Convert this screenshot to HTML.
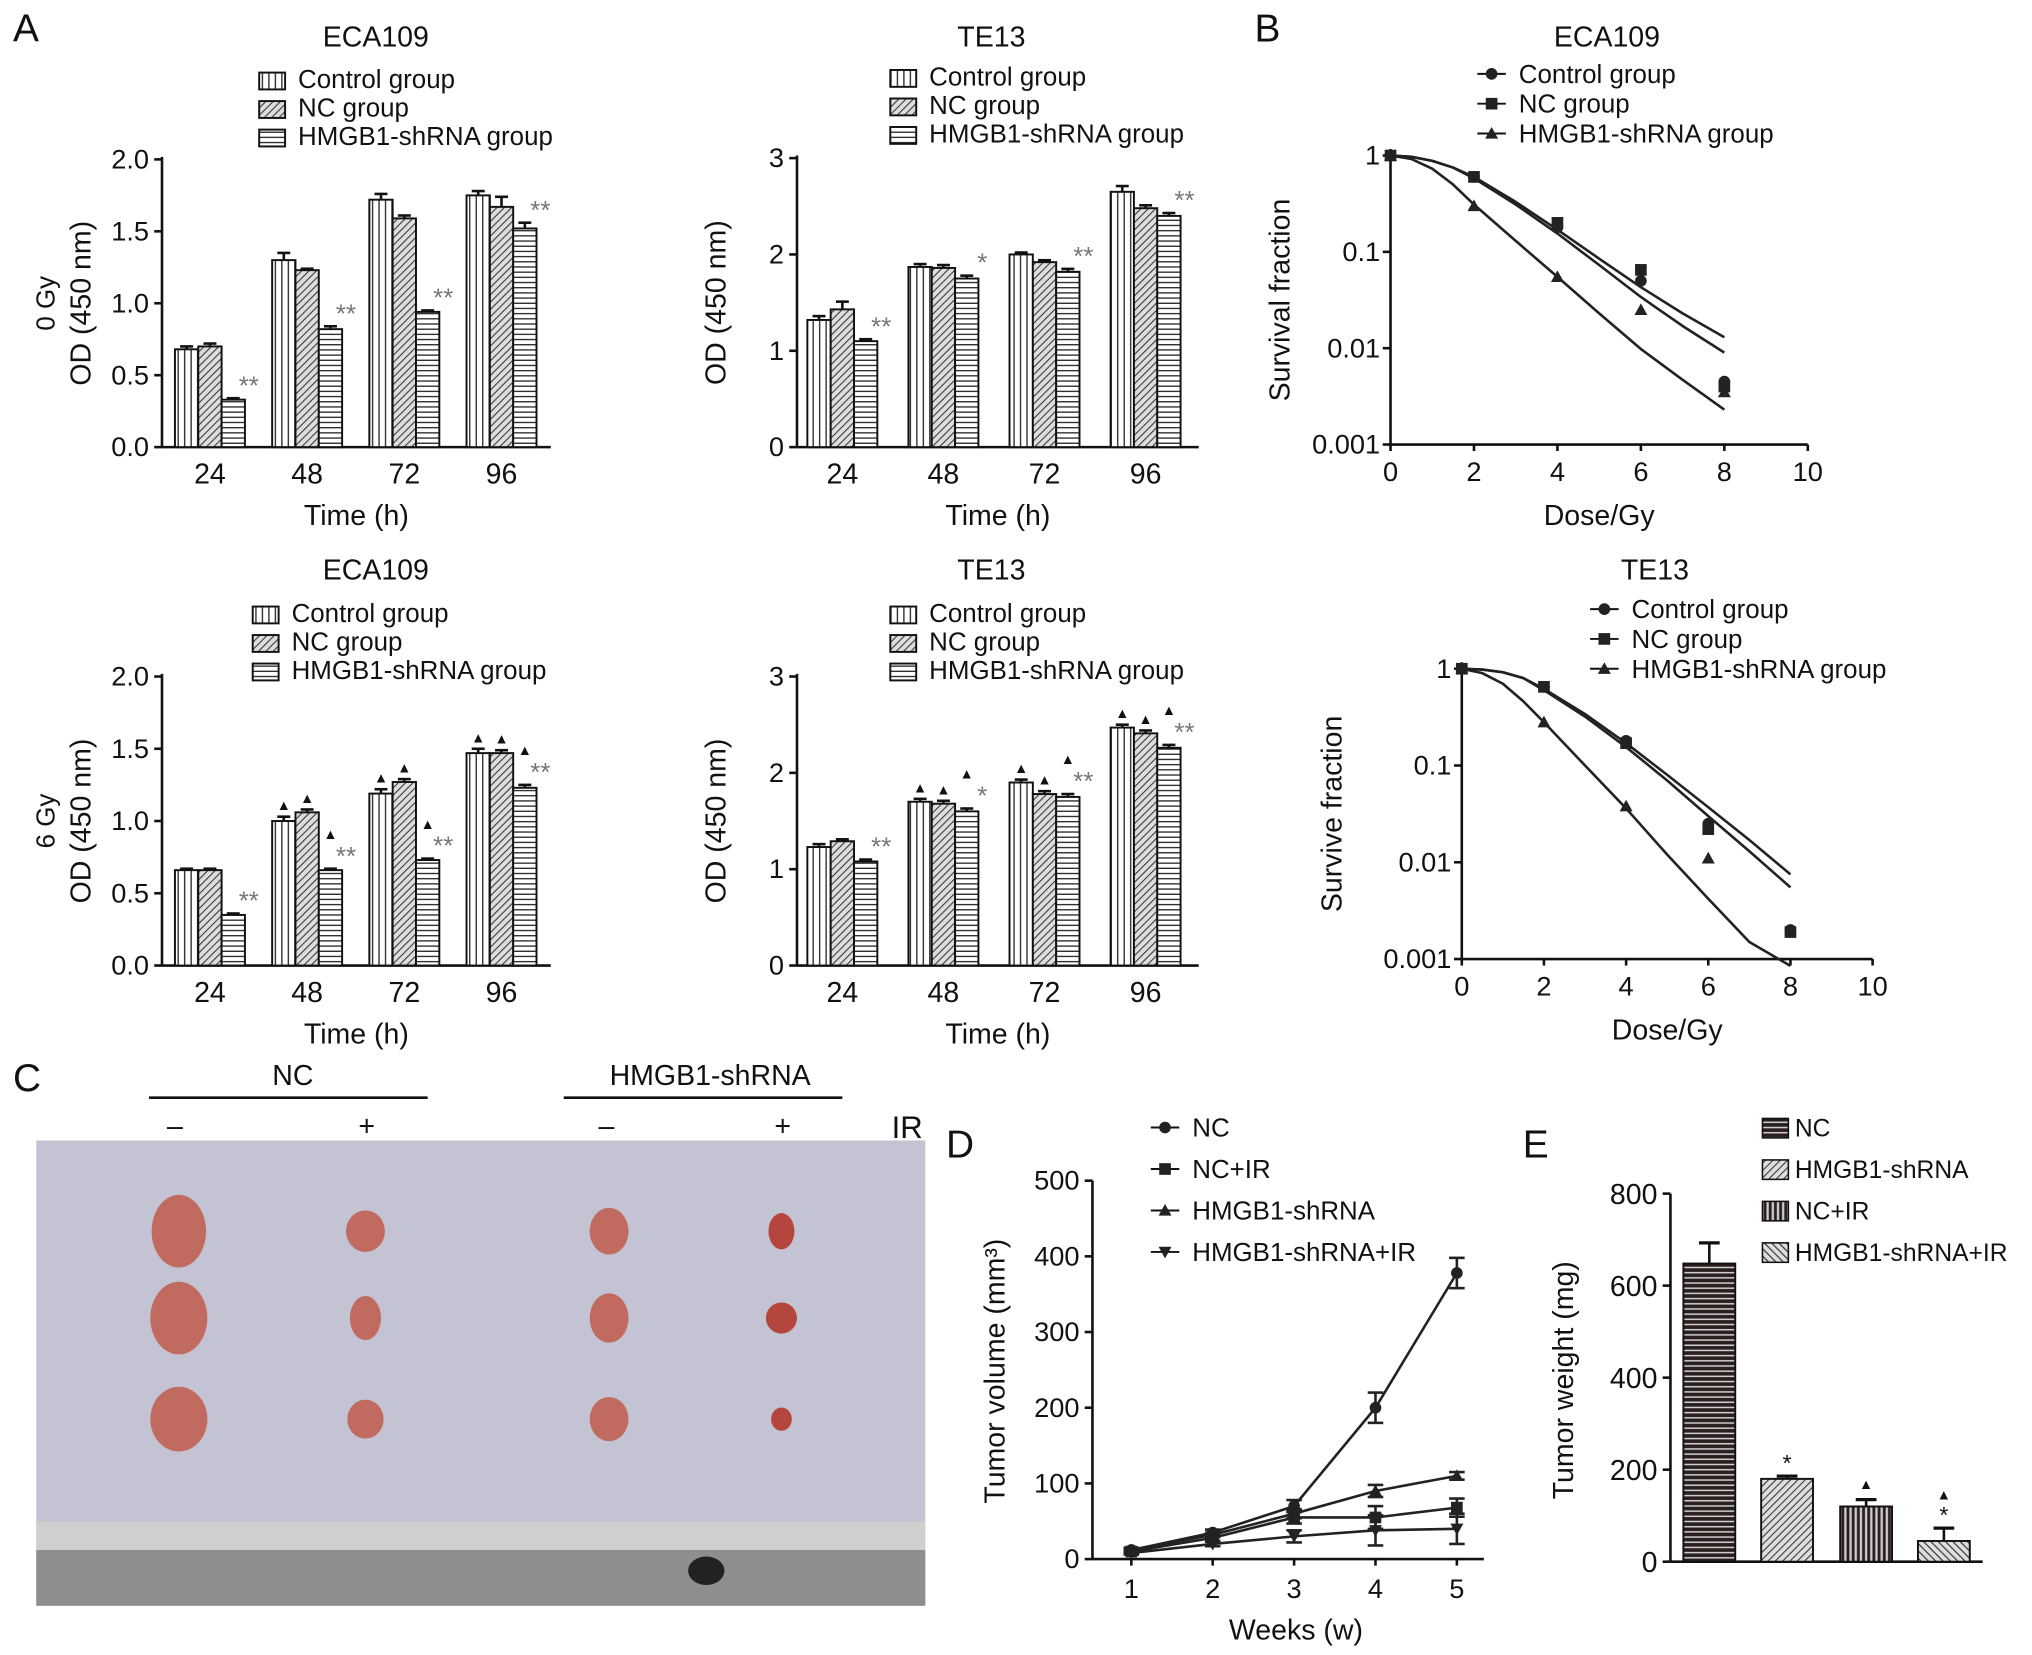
<!DOCTYPE html>
<html><head><meta charset="utf-8"><style>
html,body{margin:0;padding:0;background:#fff;}
svg{display:block;font-family:"Liberation Sans",Arial,sans-serif;}
</style></head><body>
<svg id="fig" width="2032" height="1655" viewBox="0 0 1568 1277" preserveAspectRatio="none" xmlns="http://www.w3.org/2000/svg">
<defs>
<pattern id="pV" width="5" height="5" patternUnits="userSpaceOnUse"><rect width="5" height="5" fill="#fff"/><line x1="2.5" y1="0" x2="2.5" y2="5" stroke="#222" stroke-width="1"/></pattern>
<pattern id="pD" width="4" height="4" patternUnits="userSpaceOnUse" patternTransform="rotate(45)"><rect width="4" height="4" fill="#ddd"/><line x1="0" y1="0" x2="0" y2="4" stroke="#333" stroke-width="1.6"/></pattern>
<pattern id="pH" width="5" height="4" patternUnits="userSpaceOnUse"><rect width="5" height="4" fill="#fff"/><line x1="0" y1="2" x2="5" y2="2" stroke="#222" stroke-width="1"/></pattern>
<pattern id="pHd" width="5" height="4" patternUnits="userSpaceOnUse"><rect width="5" height="4" fill="#2a1e1e"/><line x1="0" y1="2" x2="5" y2="2" stroke="#ccc" stroke-width="1.2"/></pattern>
<pattern id="pV2" width="4" height="4" patternUnits="userSpaceOnUse"><rect width="4" height="4" fill="#ccc"/><line x1="2" y1="0" x2="2" y2="4" stroke="#2a1e1e" stroke-width="2.2"/></pattern>
<pattern id="pD2" width="4" height="4" patternUnits="userSpaceOnUse" patternTransform="rotate(-45)"><rect width="4" height="4" fill="#ddd"/><line x1="0" y1="0" x2="0" y2="4" stroke="#333" stroke-width="1.8"/></pattern>
</defs>
<g>
<rect x="28" y="880" width="686" height="359" fill="#c3c3d3"/>
<rect x="28" y="1174" width="686" height="22" fill="#cfcfcf"/>
<rect x="28" y="1196" width="686" height="43" fill="#8e8e8c"/>
<ellipse cx="545" cy="1212" rx="14" ry="11" fill="#222"/>
</g>
</svg>
<script>
const NS='http://www.w3.org/2000/svg';
const svg=document.getElementById('fig');
function mk(tag,attrs,parent){const e=document.createElementNS(NS,tag);for(const k in attrs)e.setAttribute(k,attrs[k]);(parent||svg).appendChild(e);return e;}
function txt(x,y,s,size,anchor,parent,rot){const t=mk('text',{x:x,y:y,'font-size':size,'text-anchor':anchor||'middle',fill:'#111'},parent);if(rot)t.setAttribute('transform','rotate(-90 '+x+' '+y+')');t.textContent=s;return t;}

// ---- Panel A data ----
const timeLabels=['24','48','72','96'];
const a1Control=[0.68,1.30,1.72,1.75], a1NC=[0.70,1.23,1.59,1.67], a1Sh=[0.33,0.82,0.94,1.52];
const a2Control=[1.32,1.87,2.00,2.65], a2NC=[1.43,1.86,1.92,2.48], a2Sh=[1.10,1.75,1.82,2.40];
const a3Control=[0.66,1.00,1.19,1.47], a3NC=[0.66,1.06,1.27,1.47], a3Sh=[0.35,0.66,0.73,1.23];
const a4Control=[1.23,1.70,1.90,2.47], a4NC=[1.29,1.68,1.78,2.41], a4Sh=[1.08,1.60,1.75,2.26];
const a1Err=[[0.02,0.05,0.04,0.03],[0.02,0.01,0.02,0.07],[0.01,0.02,0.01,0.04]];
const a2Err=[[0.04,0.03,0.02,0.06],[0.08,0.03,0.02,0.03],[0.02,0.03,0.03,0.03]];
const a3Err=[[0.01,0.03,0.03,0.03],[0.01,0.02,0.02,0.02],[0.01,0.01,0.01,0.02]];
const a4Err=[[0.03,0.03,0.03,0.03],[0.02,0.03,0.03,0.03],[0.02,0.03,0.03,0.03]];
const a1Stars=['**','**','**','**'], a2Stars=['**','*','**','**'];
const a3Stars=['**','**','**','**'], a4Stars=['**','*','**','**'];
const ticksA1=[0,0.5,1.0,1.5,2.0], ticksA1Lab=['0.0','0.5','1.0','1.5','2.0'];
const ticksA2=[0,1,2,3], ticksA2Lab=['0','1','2','3'];
const legendA=['Control group','NC group','HMGB1-shRNA group'];

function barPanel(o){
  const g=mk('g',{});
  
  
  const y=v=>o.y0-(v/o.max)*(o.y0-o.y1);
  txt(o.titleX,o.titleY,o.title,22,'middle',g);
  const pats=['url(#pV)','url(#pD)','url(#pH)'];
  legendA.forEach((s,i)=>{
    const r=mk('rect',{x:o.legX,y:o.legY+i*22-12,width:20,height:13,fill:pats[i],stroke:'#111','stroke-width':1.5},g);
    
    
    const t=txt(o.legX+30,o.legY+i*22,s,20,'start',g);
    
    
  });
  mk('line',{x1:o.x0,y1:o.y0,x2:o.x0,y2:o.y1-2,stroke:'#111','stroke-width':2},g);
  mk('line',{x1:o.x0,y1:o.y0,x2:o.x2,y2:o.y0,stroke:'#111','stroke-width':2},g);
  o.ticks.forEach((v,i)=>{
    mk('line',{x1:o.x0-6,y1:y(v),x2:o.x0,y2:y(v),stroke:'#111','stroke-width':2},g);
    const t=txt(o.x0-10,y(v)+7,o.tickLab[i],21,'end',g);
    
    
  });
  txt(o.yLabX,(o.y0+o.y1)/2,'OD (450 nm)',22,'middle',g,true);
  if(o.dose)txt(o.yLabX-28,(o.y0+o.y1)/2,o.dose,20,'middle',g,true);
  const bw=18, series=[o.c,o.n,o.s];
  timeLabels.forEach((lab,i)=>{
    const cx=o.x0+o.first+i*o.step;
    const t=txt(cx,o.y0+28,lab,22,'middle',g);
    
    
    series.forEach((arr,j)=>{
      const bx=cx-27+j*bw, v=arr[i], e=o.err[j][i];
      const r=mk('rect',{x:bx,y:y(v),width:bw,height:o.y0-y(v),fill:pats[j],stroke:'#111','stroke-width':1.5},g);
      
      
      mk('line',{x1:bx+bw/2,y1:y(v),x2:bx+bw/2,y2:y(v+e),stroke:'#111','stroke-width':2},g);
      mk('line',{x1:bx+4,y1:y(v+e),x2:bx+bw-4,y2:y(v+e),stroke:'#111','stroke-width':2},g);
      if(o.tri && j<2 && i>0) txt(bx+bw/2,y(v+e)-5,'▲',11,'middle',g);
    });
    const sv=o.s[i], sx=cx-27+2*bw+bw/2;
    let sy=y(sv+o.err[2][i])-3;
    if(o.tri && i>0){txt(sx,sy-20,'▲',11,'middle',g);}
    const st=txt(sx+12,sy,o.stars[i],20,'middle',g);
    st.setAttribute('fill','#777');
  });
  txt((o.x0+o.x2)/2,o.y0+60,'Time (h)',22,'middle',g);
}
barPanel({name:'chart-eca109-0gy',title:'ECA109',titleX:290,titleY:36,legX:200,legY:68,x0:125,x2:425,y0:345,y1:123,max:2.0,ticks:ticksA1,tickLab:ticksA1Lab,first:37,step:75,c:a1Control,n:a1NC,s:a1Sh,err:a1Err,stars:a1Stars,yLabX:70,dose:'0 Gy'});
barPanel({name:'chart-te13-0gy',title:'TE13',titleX:765,titleY:36,legX:687,legY:66,x0:615,x2:925,y0:345,y1:122,max:3,ticks:ticksA2,tickLab:ticksA2Lab,first:35,step:78,c:a2Control,n:a2NC,s:a2Sh,err:a2Err,stars:a2Stars,yLabX:560});
barPanel({name:'chart-eca109-6gy',title:'ECA109',titleX:290,titleY:447,legX:195,legY:480,x0:125,x2:425,y0:745,y1:522,max:2.0,ticks:ticksA1,tickLab:ticksA1Lab,first:37,step:75,c:a3Control,n:a3NC,s:a3Sh,err:a3Err,stars:a3Stars,yLabX:70,dose:'6 Gy',tri:true});
barPanel({name:'chart-te13-6gy',title:'TE13',titleX:765,titleY:447,legX:687,legY:480,x0:615,x2:925,y0:745,y1:522,max:3,ticks:ticksA2,tickLab:ticksA2Lab,first:35,step:78,c:a4Control,n:a4NC,s:a4Sh,err:a4Err,stars:a4Stars,yLabX:560,tri:true});

// ---- Panel B data ----
const doses=[0,2,4,6,8];
const b1Control=[1,0.60,0.18,0.05,0.0045], b1NC=[1,0.60,0.20,0.065,0.004], b1Sh=[1,0.30,0.055,0.025,0.0035];
const fitDoses=[0,0.5,1,1.5,2,3,4,5,6,7,8];
const b1FitC=[1,0.97,0.88,0.75,0.60,0.33,0.17,0.085,0.043,0.023,0.013];
const b1FitN=[1,0.97,0.88,0.75,0.58,0.31,0.155,0.073,0.034,0.017,0.009];
const b1FitS=[1,0.92,0.73,0.5,0.31,0.13,0.055,0.023,0.0098,0.0047,0.0023];
const b2Control=[1,0.65,0.18,0.025,0.002], b2NC=[1,0.65,0.17,0.022,0.0019], b2Sh=[1,0.28,0.038,0.011,null];
const b2FitC=[1,0.98,0.92,0.8,0.62,0.34,0.17,0.08,0.037,0.017,0.0075];
const b2FitN=[1,0.98,0.92,0.8,0.6,0.32,0.155,0.07,0.03,0.013,0.0055];
const b2FitS=[1,0.9,0.7,0.46,0.28,0.1,0.036,0.012,0.0042,0.0015,0.0008];
const logTicks=[1,0.1,0.01,0.001], logTickLab=['1','0.1','0.01','0.001'];
const doseTicks=[0,2,4,6,8,10];
const legendB=['Control group','NC group','HMGB1-shRNA group'];

function logPanel(o){
  const g=mk('g',{});
  
  
  const x=d=>o.x0+d/10*(o.x2-o.x0);
  const y=v=>o.y1+(-Math.log10(v))/3*(o.y0-o.y1);
  txt(o.titleX,o.titleY,o.title,22,'middle',g);
  const marks=['circle','square','tri'];
  legendB.forEach((s,i)=>{
    const ly=o.legY+i*23;
    mk('line',{x1:o.legX,y1:ly-7,x2:o.legX+22,y2:ly-7,stroke:'#111','stroke-width':1.5},g);
    marker(g,o.legX+11,ly-7,marks[i]);
    const t=txt(o.legX+32,ly,s,20,'start',g);
    
    
  });
  mk('line',{x1:o.x0,y1:o.y0,x2:o.x0,y2:o.y1-5,stroke:'#111','stroke-width':2},g);
  mk('line',{x1:o.x0,y1:o.y0,x2:o.x2,y2:o.y0,stroke:'#111','stroke-width':2},g);
  logTicks.forEach((v,i)=>{
    mk('line',{x1:o.x0-6,y1:y(v),x2:o.x0,y2:y(v),stroke:'#111','stroke-width':2},g);
    const t=txt(o.x0-8,y(v)+7,logTickLab[i],21,'end',g);
    
    
  });
  doseTicks.forEach(d=>{
    mk('line',{x1:x(d),y1:o.y0,x2:x(d),y2:o.y0+5,stroke:'#111','stroke-width':2},g);
    const t=txt(x(d),o.y0+28,String(d),21,'middle',g);
    
    
  });
  txt((o.x0+o.x2)/2,o.y0+62,'Dose/Gy',22,'middle',g);
  txt(o.yLabX,(o.y0+o.y1)/2,o.ylab,22,'middle',g,true);
  [o.fc,o.fn,o.fs].forEach((f,j)=>{
    let d='';
    fitDoses.forEach((dd,i)=>{let v=Math.max(f[i],0.00085);d+=(i?'L':'M')+x(dd)+' '+y(v);});
    const p=mk('path',{d:d,fill:'none',stroke:'#222','stroke-width':2,'stroke-linejoin':'round'},g);
    
    
  });
  [o.c,o.n,o.s].forEach((arr,j)=>{
    arr.forEach((v,i)=>{ if(v==null)return; marker(g,x(doses[i]),y(v),marks[j]); });
  });
}
function marker(g,cx,cy,m){
  let e;
  if(m==='circle')e=mk('circle',{cx:cx,cy:cy,r:4.5,fill:'#222'},g);
  else if(m==='square')e=mk('rect',{x:cx-4.5,y:cy-4.5,width:9,height:9,fill:'#222'},g);
  else if(m==='tri')e=mk('polygon',{points:(cx)+','+(cy-5)+' '+(cx+5)+','+(cy+4)+' '+(cx-5)+','+(cy+4),fill:'#222'},g);
  else e=mk('polygon',{points:(cx)+','+(cy+5)+' '+(cx+5)+','+(cy-4)+' '+(cx-5)+','+(cy-4),fill:'#222'},g);
  
  
}
logPanel({name:'chart-survival-eca109',title:'ECA109',titleX:1240,titleY:36,legX:1140,legY:64,x0:1073,x2:1395,y0:343,y1:120,c:b1Control,n:b1NC,s:b1Sh,fc:b1FitC,fn:b1FitN,fs:b1FitS,ylab:'Survival fraction',yLabX:995});
logPanel({name:'chart-survival-te13',title:'TE13',titleX:1277,titleY:447,legX:1227,legY:477,x0:1128,x2:1445,y0:740,y1:516,c:b2Control,n:b2NC,s:b2Sh,fc:b2FitC,fn:b2FitN,fs:b2FitS,ylab:'Survive fraction',yLabX:1035});

// ---- Panel letters & C labels ----
[['A',10,32],['B',968,32],['C',10,842],['D',730,893],['E',1175,893]].forEach(a=>{const t=txt(a[1],a[2],a[0],30,'start');});
txt(226,837,'NC',22);txt(548,837,'HMGB1-shRNA',22);
mk('line',{x1:115,y1:847,x2:330,y2:847,stroke:'#111','stroke-width':2});
mk('line',{x1:435,y1:847,x2:650,y2:847,stroke:'#111','stroke-width':2});
txt(135,876,'–',22);txt(283,876,'+',22);txt(468,876,'–',22);txt(604,876,'+',22);txt(700,878,'IR',24);
const tumorX=[138,282,470,603], tumorY=[950,1017,1095];
const tumorRx=[[21,15,15,10],[22,12,15,12],[22,14,15,8]], tumorRy=[[28,16,18,14],[28,17,19,12],[25,15,17,9]];
tumorY.forEach((ty,r)=>tumorX.forEach((tx,c)=>{const e=mk('ellipse',{cx:tx,cy:ty,rx:tumorRx[r][c],ry:tumorRy[r][c],fill:c==3?'#b4463e':'#c06a60'});}));

// ---- Panel D ----
const weeks=[1,2,3,4,5];
const dNC=[12,35,70,200,378], dNCIR=[10,28,55,55,68], dSh=[12,32,60,90,110], dShIR=[8,20,30,38,40];
const dErr=[[3,4,8,20,20],[2,4,8,15,12],[2,3,6,8,5],[2,3,8,20,20]];
const dTicks=[0,100,200,300,400,500];
const legendD=['NC','NC+IR','HMGB1-shRNA','HMGB1-shRNA+IR'];
(function(){
  const g=mk('g',{});
  
  
  const x0=843,x2=1145,y0=1203,y1=911;
  const x=w=>873+(w-1)*62.8, y=v=>y0-v/500*(y0-y1);
  mk('line',{x1:x0,y1:y0,x2:x0,y2:y1,stroke:'#111','stroke-width':2},g);
  mk('line',{x1:x0,y1:y0,x2:x2,y2:y0,stroke:'#111','stroke-width':2},g);
  dTicks.forEach(v=>{mk('line',{x1:x0-6,y1:y(v),x2:x0,y2:y(v),stroke:'#111','stroke-width':2},g);const t=txt(x0-10,y(v)+7,String(v),21,'end',g);});
  weeks.forEach(w=>{mk('line',{x1:x(w),y1:y0,x2:x(w),y2:y0+5,stroke:'#111','stroke-width':2},g);const t=txt(x(w),y0+30,String(w),21,'middle',g);});
  txt(1000,y0+62,'Weeks (w)',22,'middle',g);
  txt(775,y0-145,'Tumor volume (mm³)',22,'middle',g,true);
  const ms=['circle','square','tri','down'];
  [dNC,dNCIR,dSh,dShIR].forEach((arr,j)=>{
    let d='';arr.forEach((v,i)=>{d+=(i?'L':'M')+x(weeks[i])+' '+y(v);});
    const p=mk('path',{d:d,fill:'none',stroke:'#222','stroke-width':2},g);
    
    
    arr.forEach((v,i)=>{const e=dErr[j][i],cx=x(weeks[i]);
      mk('line',{x1:cx,y1:y(v-e),x2:cx,y2:y(v+e),stroke:'#222','stroke-width':2},g);
      mk('line',{x1:cx-6,y1:y(v+e),x2:cx+6,y2:y(v+e),stroke:'#222','stroke-width':2},g);
      mk('line',{x1:cx-6,y1:y(v-e),x2:cx+6,y2:y(v-e),stroke:'#222','stroke-width':2},g);
      marker(g,cx,y(v),ms[j]);});
    const ly=877+j*32;
    mk('line',{x1:888,y1:ly-7,x2:910,y2:ly-7,stroke:'#111','stroke-width':1.5},g);
    marker(g,899,ly-7,ms[j]);
    const t=txt(920,ly,legendD[j],20,'start',g);
    
    
  });
})();

// ---- Panel E ----
const eLabels=['NC','HMGB1-shRNA','NC+IR','HMGB1-shRNA+IR'];
const eValues=[648,180,120,45];
const eErr=[45,6,15,28];
const eTicks=[0,200,400,600,800];
const eMarks=['','*','▲','▲*'];
(function(){
  const g=mk('g',{});
  
  
  const x0=1289,x2=1530,y0=1205,y1=921;
  const y=v=>y0-v/800*(y0-y1);
  const pats=['url(#pHd)','url(#pD)','url(#pV2)','url(#pD2)'];
  const cxs=[1319,1379,1440,1500];
  mk('line',{x1:x0,y1:y0,x2:x0,y2:y1,stroke:'#111','stroke-width':2},g);
  mk('line',{x1:x0,y1:y0,x2:x2,y2:y0,stroke:'#111','stroke-width':2},g);
  eTicks.forEach(v=>{mk('line',{x1:x0-6,y1:y(v),x2:x0,y2:y(v),stroke:'#111','stroke-width':2},g);const t=txt(x0-10,y(v)+8,String(v),22,'end',g);});
  txt(1214,y0-140,'Tumor weight (mg)',22,'middle',g,true);
  eValues.forEach((v,i)=>{
    const r=mk('rect',{x:cxs[i]-20,y:y(v),width:40,height:y0-y(v),fill:pats[i],stroke:'#111','stroke-width':1.5},g);
    
    
    const e=eErr[i];
    mk('line',{x1:cxs[i],y1:y(v),x2:cxs[i],y2:y(v+e),stroke:'#111','stroke-width':2},g);
    mk('line',{x1:cxs[i]-8,y1:y(v+e),x2:cxs[i]+8,y2:y(v+e),stroke:'#111','stroke-width':2.5},g);
    if(eMarks[i].includes('*'))txt(cxs[i],y(v+e)-4,'*',18,'middle',g);
    if(eMarks[i].includes('▲'))txt(cxs[i],y(v+e)-(eMarks[i].length>1?22:8),'▲',11,'middle',g);
    const ly=877+i*32;
    const s=mk('rect',{x:1360,y:ly-14,width:20,height:15,fill:pats[i],stroke:'#111','stroke-width':1.2},g);
    
    
    const t=txt(1385,ly,eLabels[i],19,'start',g);
    
    
  });
})();
</script>
</body></html>
